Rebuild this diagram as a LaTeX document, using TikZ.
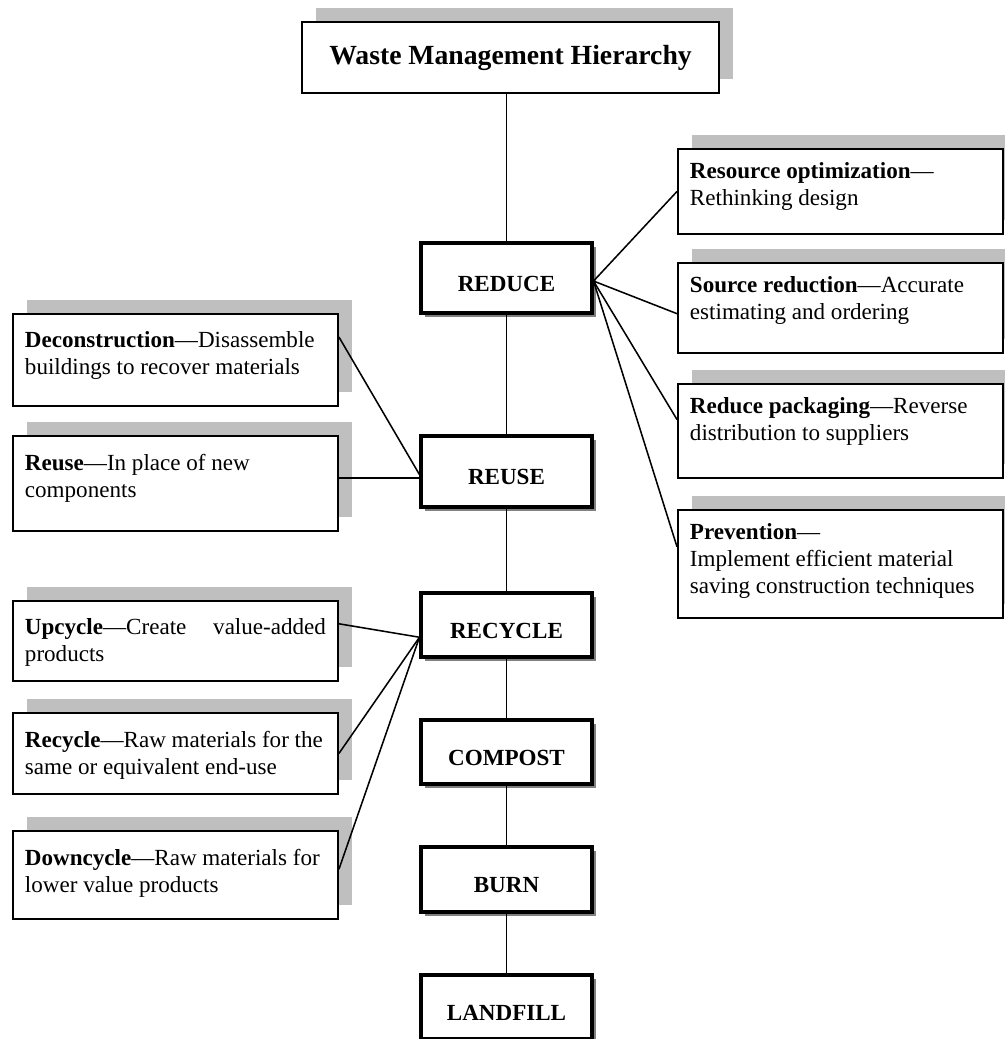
\documentclass[tikz,border=0pt]{standalone}
\usepackage{fontspec}
\setmainfont{Liberation Serif}
\usetikzlibrary{shadows}

\newdimen\unitpx
\unitpx=0.52pt
\newcommand{\sidetext}[2]{\parbox[t][#1\unitpx][t]{301\unitpx}{#2}}

\begin{document}
\begin{tikzpicture}[x=0.52pt,y=-0.52pt]
\tikzstyle{every node}+=[font=\fontsize{12}{14}\selectfont]
\tikzstyle{head}=[draw, line width=1pt, fill=white, minimum width=417\unitpx, minimum height=71\unitpx, font=\fontsize{14.4}{17}\selectfont\bfseries, drop shadow={shadow xshift=14\unitpx,shadow yshift=14\unitpx,fill=black!25,opacity=1}]
\tikzstyle{stage}=[draw, line width=1.6pt, fill=white, minimum width=171\unitpx, text height=14pt, text depth=0pt, font=\fontsize{12}{14}\selectfont\bfseries, drop shadow={shadow xshift=2pt,shadow yshift=-2pt,fill=black!50,opacity=1}]
\tikzstyle{note}=[draw, line width=1pt, fill=white, anchor=north west, inner xsep=12\unitpx, drop shadow={shadow xshift=14\unitpx,shadow yshift=14\unitpx,fill=black!25,opacity=1}]
\tikzstyle{link}=[line width=0.8pt]
\tikzstyle{spine}=[line width=1pt]
\useasboundingbox (0,0) rectangle (1005,1039);

% title
\node[head] (title) at (510.5,57.5) {Waste Management Hierarchy};

% hierarchy
\node[stage, minimum height=70\unitpx] (reduce) at (506.5,278) {REDUCE};
\node[stage, minimum height=71\unitpx] (reuse) at (506.5,471.5) {REUSE};
\node[stage, minimum height=64\unitpx] (recycle) at (506.5,625) {RECYCLE};
\node[stage, minimum height=64\unitpx] (compost) at (506.5,752) {COMPOST};
\node[stage, minimum height=65\unitpx] (burn) at (506.5,879.5) {BURN};
\node[stage, minimum height=64\unitpx] (landfill) at (506.5,1007) {LANDFILL};

% reduce
\node[note, inner ysep=14\unitpx] (resopt) at (677,148) {\sidetext{57}{\textbf{Resource optimization}—\\Rethinking design}};
\node[note, inner ysep=14\unitpx] (srcred) at (677,262) {\sidetext{62}{\textbf{Source reduction}—Accurate\\estimating and ordering}};
\node[note, inner ysep=14\unitpx] (redpack) at (677,383) {\sidetext{66}{\textbf{Reduce packaging}—Reverse\\distribution to suppliers}};
\node[note, inner ysep=14\unitpx] (prevent) at (677,509) {\sidetext{80}{\textbf{Prevention}—\\Implement efficient material\\saving construction techniques}};

% reuse
\node[note, inner ysep=18\unitpx] (deconst) at (12,313) {\sidetext{56}{\textbf{Deconstruction}—Disassemble\\buildings to recover materials}};
\node[note, inner ysep=18\unitpx] (reusebox) at (12,435) {\sidetext{59}{\textbf{Reuse}—In place of new\\components}};

% recycle
\node[note, inner ysep=18\unitpx] (upcycle) at (12,600) {\sidetext{44}{\textbf{Upcycle}—Create\hfill value-added\\products}};
\node[note, inner ysep=18\unitpx] (recybox) at (12,712) {\sidetext{45}{\textbf{Recycle}—Raw materials for the\\same or equivalent end-use}};
\node[note, inner ysep=18\unitpx] (downcycle) at (12,830) {\sidetext{52}{\textbf{Downcycle}—Raw materials for\\lower value products}};

% connectors
\draw[spine] (title.south -| reduce.north) -- (reduce.north);
\draw[spine] (reduce) -- (reuse) -- (recycle) -- (compost) -- (burn) -- (landfill);
\foreach \t/\a in {resopt/180, srcred/182, redpack/176, prevent/174}
  \draw[link] (reduce.-2) -- (\t.\a);
\draw[link] (reuse.182) -- (deconst.8);
\draw[spine] (reuse.184) -- (reusebox.east |- reuse.184);
\foreach \t/\a in {upcycle/6, recybox/0, downcycle/2}
  \draw[link] (recycle.188) -- (\t.\a);
\end{tikzpicture}
\end{document}
